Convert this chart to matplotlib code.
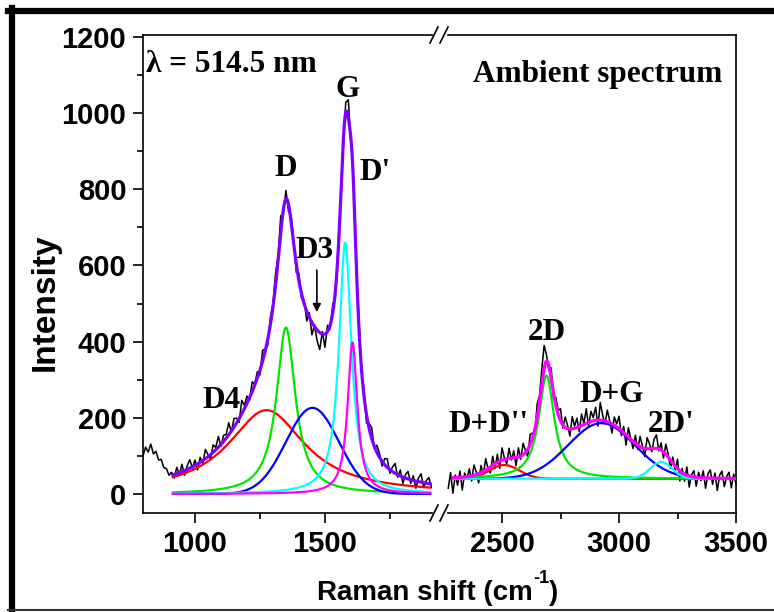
import numpy as np
import matplotlib
matplotlib.use("Agg")
import matplotlib.pyplot as plt
from matplotlib.lines import Line2D
from matplotlib.ticker import MultipleLocator

# 实测谱线 (每10 cm-1 一个点)
left_x = np.arange(800, 1911, 10)
left_counts = [100, 123, 110, 131, 105, 112, 89, 91, 69, 67, 49, 57, 42, 70, 50, 78, 49, 74, 90, 68,
               89, 63, 96, 80, 117, 103, 92, 129, 122, 151, 125, 154, 156, 187, 162, 198, 199, 188, 246, 232,
               257, 246, 294, 289, 321, 312, 377, 381, 390, 463, 500, 579, 627, 730, 737, 797, 741, 730, 663, 581,
               579, 513, 509, 454, 476, 418, 443, 402, 379, 426, 385, 443, 433, 497, 516, 638, 770, 898, 1028, 1035,
               921, 832, 600, 470, 324, 275, 186, 185, 174, 119, 128, 106, 73, 93, 92, 54, 71, 80, 44, 63,
               28, 51, 59, 28, 48, 15, 42, 53, 17, 35, 43, 17]
right_x = np.arange(2270, 3501, 10)
right_counts = [15, 56, 2, 50, 23, 60, 10, 55, 39, 66, 34, 76, 58, 29, 75, 51, 93, 67, 55, 99,
                68, 104, 67, 121, 94, 79, 120, 89, 113, 74, 121, 91, 133, 114, 98, 156, 160, 159, 236, 258,
                328, 390, 365, 324, 331, 249, 254, 219, 224, 173, 202, 180, 152, 203, 178, 199, 164, 210, 186, 224,
                177, 217, 200, 228, 178, 240, 207, 184, 220, 193, 160, 202, 184, 204, 153, 177, 128, 174, 146, 119,
                154, 117, 151, 127, 98, 148, 132, 111, 144, 155, 113, 134, 94, 131, 105, 67, 97, 62, 91, 34,
                67, 33, 71, 18, 51, 61, 20, 57, 35, 61, 15, 53, 63, 25, 55, 9, 49, 60, 19, 46,
                57, 16, 52, 27]

# 分峰参数 (中心, 高度, 半高宽, 线型 L=洛伦兹 G=高斯)
left_names = ["D4", "D", "D3", "G", "D'"]
left_centers = [1275, 1350, 1452, 1578, 1606]
left_heights = [220, 437, 226, 660, 398]
left_fwhm = [360, 88, 240, 58, 45]
left_shapes = ["L", "L", "G", "L", "L"]
left_colors = ["#ff0000", "#00e600", "#0000ff", "#00ffff", "#ff00ff"]

right_names = ["D+D''", "2D", "D+G", "2D'"]
right_centers = [2510, 2690, 2925, 3180]
right_heights = [36, 271, 146, 44]
right_fwhm = [150, 80, 335, 110]
right_shapes = ["G", "L", "G", "G"]
right_colors = ["#ff0000", "#00e600", "#0000ff", "#00ffff"]
right_base = 40

left_fit_range = (915, 1905)
right_fit_range = (2290, 3500)


def peak(x, c, h, w, shape):
    if shape == "L":
        return h / (1 + (2 * (x - c) / w) ** 2)
    s = w / 2.3548
    return h * np.exp(-(x - c) ** 2 / (2 * s ** 2))


def model(x, centers, heights, fwhm, shapes, base=0):
    return base + sum(peak(x, c, h, w, s) for c, h, w, s in zip(centers, heights, fwhm, shapes))


W, H = 774, 612
fig = plt.figure(figsize=(W / 100, H / 100), dpi=100)


def fx(px):
    return px / W


def fy(py):
    return 1 - py / H


ax1 = fig.add_axes([fx(143), fy(513), fx(432) - fx(143), fy(35) - fy(513)])
ax2 = fig.add_axes([fx(448), fy(513), fx(736) - fx(448), fy(35) - fy(513)])

lab_font = dict(family="Liberation Serif", weight="bold", size=22.5)

for ax in (ax1, ax2):
    ax.set_ylim(-50, 1205)
    for sp in ax.spines.values():
        sp.set_linewidth(1.2)
    ax.tick_params(which="both", direction="out", width=1.2, top=False, right=False)
    ax.tick_params(which="major", length=7, pad=5)
    ax.tick_params(which="minor", length=4)

ax1.set_xlim(800, 1912)
ax2.set_xlim(2269, 3500)
ax1.spines["right"].set_visible(False)
ax2.spines["left"].set_visible(False)
ax2.tick_params(which="both", left=False, labelleft=False)

ax1.set_xticks([1000, 1500])
ax1.xaxis.set_minor_locator(MultipleLocator(250))
ax1.set_yticks(range(0, 1201, 200))
ax1.yaxis.set_minor_locator(MultipleLocator(100))
ax2.set_xticks([2500, 3000, 3500])
ax2.xaxis.set_minor_locator(MultipleLocator(250))
for ax in (ax1, ax2):
    for lbl in ax.get_xticklabels() + ax.get_yticklabels():
        lbl.set_family("Liberation Sans")
        lbl.set_weight("bold")
        lbl.set_size(21)

# 原始谱线
ax1.plot(left_x, left_counts, color="black", lw=1.1, zorder=2)
ax2.plot(right_x, right_counts, color="black", lw=1.1, zorder=2, clip_on=False)

# 分峰和拟合曲线
xl = np.linspace(*left_fit_range, 600)
for c, h, w, s, col in zip(left_centers, left_heights, left_fwhm, left_shapes, left_colors):
    ax1.plot(xl, peak(xl, c, h, w, s), color=col, lw=1.6, zorder=3)
ax1.plot(xl, model(xl, left_centers, left_heights, left_fwhm, left_shapes), color="#8000ff", lw=2.3, zorder=4)

xr = np.linspace(*right_fit_range, 600)
for c, h, w, s, col in zip(right_centers, right_heights, right_fwhm, right_shapes, right_colors):
    ax2.plot(xr, right_base + peak(xr, c, h, w, s), color=col, lw=1.6, zorder=3)
ax2.plot(xr, model(xr, right_centers, right_heights, right_fwhm, right_shapes, right_base),
         color="#ff00ff", lw=2.3, zorder=4)

# 标注
ax1.text(812, 1108, "λ = 514.5 nm", ha="left", va="baseline", **lab_font)
ax1.text(1588, 1042, "G", ha="center", va="baseline", **lab_font)
ax1.text(1350, 835, "D", ha="center", va="baseline", **lab_font)
ax1.text(1692, 824, "D'", ha="center", va="baseline", **lab_font)
ax1.text(1462, 619, "D3", ha="center", va="baseline", **lab_font)
ax1.text(1104, 226, "D4", ha="center", va="baseline", **lab_font)
ax1.annotate("", xy=(1469, 470), xytext=(1469, 595),
             arrowprops=dict(arrowstyle="-|>", color="black", lw=1.2, mutation_scale=12))
ax2.text(3440, 1081, "Ambient spectrum", ha="right", va="baseline", **lab_font)
ax2.text(2692, 404, "2D", ha="center", va="baseline", **lab_font)
ax2.text(2444, 163, "D+D''", ha="center", va="baseline", **lab_font)
ax2.text(2970, 241, "D+G", ha="center", va="baseline", **lab_font)
ax2.text(3222, 163, "2D'", ha="center", va="baseline", **lab_font)

# x轴标题, 上标单独画
sans = dict(family="Liberation Sans", weight="bold")
parts = [fig.text(0, fy(600), "Raman shift (cm", va="baseline", size=20, **sans),
         fig.text(0, fy(583), "-1", va="baseline", size=13, **sans),
         fig.text(0, fy(600), ")", va="baseline", size=20, **sans)]
rend = fig.canvas.get_renderer()
widths = [p.get_window_extent(rend).width for p in parts]
x0 = 438 - sum(widths) / 2
for p, w in zip(parts, widths):
    p.set_x(fx(x0))
    x0 += w

fig.text(fx(45), fy(302), "Intensity", ha="center", va="center", rotation=90,
         family="Liberation Sans", weight="bold", size=24)

# 断轴标记
for ypx in (35, 513):
    for xc in (434, 444):
        fig.add_artist(Line2D([fx(xc - 4), fx(xc + 4)], [fy(ypx + 8), fy(ypx - 8)],
                              color="black", lw=1.2))

# 外框
fig.add_artist(Line2D([fx(11.5), fx(11.5)], [fy(8), fy(610)], color="black", lw=4.5))
fig.add_artist(Line2D([fx(8), fx(774)], [fy(11), fy(11)], color="black", lw=4.5))
fig.add_artist(Line2D([fx(8), fx(774)], [fy(609.5), fy(609.5)], color="#333333", lw=1.5))

fig.savefig("out.png", dpi=100)
